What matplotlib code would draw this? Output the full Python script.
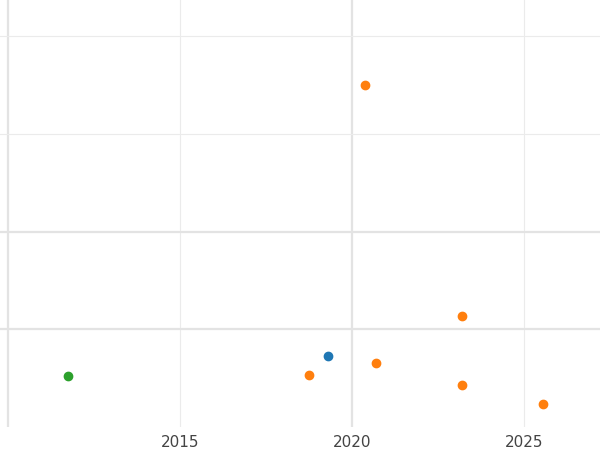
import matplotlib
matplotlib.use("Agg")
import matplotlib.pyplot as plt

# data (y in arbitrary units, gridlines at 0..3)
green_x = [2011.75]
green_y = [-0.48]
blue_x = [2019.3]
blue_y = [-0.27]
orange_x = [2020.38, 2023.2, 2020.7, 2018.75, 2023.2, 2025.55]
orange_y = [2.50, 0.14, -0.35, -0.47, -0.57, -0.76]

x_ticks = [2015, 2020, 2025]

fig = plt.figure(figsize=(6, 4.5), dpi=100)
ax = fig.add_axes([0, 23 / 450, 1, 427 / 450])

ax.set_xlim(2009.77, 2027.21)
ax.set_ylim(-1.0, 3.37)

# grid: some lines heavier than others, as in the reference
for x in [2015, 2025]:
    ax.axvline(x, color="#ebebeb", lw=0.8, zorder=0)
for x in [2010, 2020]:
    ax.axvline(x, color="#e3e3e3", lw=1.6, zorder=0)
for y in [2, 3]:
    ax.axhline(y, color="#ebebeb", lw=0.8, zorder=0)
for y in [0, 1]:
    ax.axhline(y, color="#e3e3e3", lw=1.6, zorder=0)

ax.scatter(green_x, green_y, color="#2ca02c", s=36, zorder=3)
ax.scatter(blue_x, blue_y, color="#1f77b4", s=36, zorder=3)
ax.scatter(orange_x, orange_y, color="#ff7f0e", s=36, zorder=3)

ax.set_xticks(x_ticks)
ax.set_xticklabels([str(t) for t in x_ticks], color="#444444", fontsize=11)
ax.tick_params(axis="x", length=0, pad=6)
ax.set_yticks([])
for s in ax.spines.values():
    s.set_visible(False)

fig.savefig("out.png", dpi=100)
